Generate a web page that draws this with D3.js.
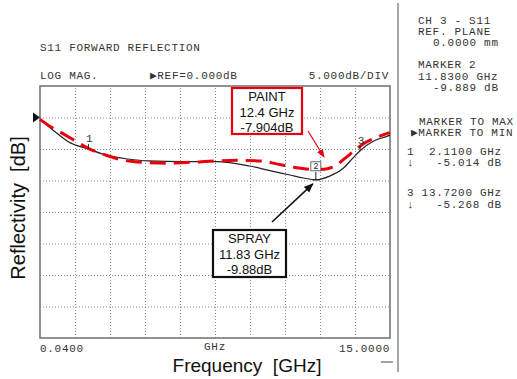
<!DOCTYPE html>
<html>
<head>
<meta charset="utf-8">
<script src="https://cdn.jsdelivr.net/npm/d3@7"></script>
<style>
  body { margin: 0; background: #fff; }
  .mono { font-family: "Liberation Mono", "DejaVu Sans Mono", monospace; font-size: 11px; fill: #333; letter-spacing: 0.7px; white-space: pre; }
  .sans { font-family: "Liberation Sans", Arial, sans-serif; white-space: pre; }
  .grid line { stroke: #888; stroke-width: 1; stroke-dasharray: 1,2; }
  .grid path { display: none; }
</style>
</head>
<body>
<div id="chart"></div>
<script>
// Paint (red dashed) and spray (black solid) reflectivity curves, [GHz, dB]
var paintData = [
  [0.04, -0.3], [0.55, -1.6], [1.04, -2.6], [1.5, -3.6], [2.1, -4.9], [2.8, -5.9],
  [3.4, -6.6], [4.0, -7.0], [4.6, -7.15], [5.5, -7.25], [6.5, -7.1], [7.5, -6.9],
  [8.5, -6.8], [9.5, -6.9], [10.2, -7.4], [10.9, -7.9], [11.6, -8.2], [12.2, -8.2],
  [12.7, -7.6], [13.1, -6.4], [13.5, -5.2], [13.9, -4.1], [14.4, -3.2], [15.0, -2.4]
];
var sprayData = [
  [0.04, -0.3], [0.68, -2.25], [1.25, -3.84], [2.11, -5.01], [2.95, -6.06], [3.8, -6.59],
  [4.66, -6.9], [6.15, -7.0], [7.59, -7.0], [9.0, -7.7], [9.87, -8.44], [10.73, -9.13],
  [11.3, -9.6], [11.83, -9.889], [12.42, -9.3], [13.0, -8.06], [13.4, -6.5], [13.72, -5.268],
  [14.3, -3.73], [14.86, -3.0], [15.0, -2.8]
];
// instrument markers on the spray trace
var markers = [
  {id: "1", f: 2.11, db: -5.014},
  {id: "2", f: 11.83, db: -9.889},
  {id: "3", f: 13.72, db: -5.268}
];
var headerLines = ["S11 FORWARD REFLECTION"];
var sideLines = [
  ["CH 3 - S11", 418, 24], ["REF. PLANE", 418, 35], ["0.0000 mm", 433, 46],
  ["MARKER 2", 418, 68], ["11.8300 GHz", 418, 80], ["-9.889 dB", 433, 91],
  ["MARKER TO MAX", 419, 125], ["\u25B6MARKER TO MIN", 411, 136],
  ["1  2.1100 GHz", 407, 155], ["\u2193   -5.014 dB", 407, 166],
  ["3 13.7200 GHz", 407, 196], ["\u2193   -5.268 dB", 407, 208]
];
var paintNote = ["PAINT", "12.4 GHz", "-7.904dB"];
var sprayNote = ["SPRAY", "11.83 GHz", "-9.88dB"];

var W = 517, H = 379;
var margin = {top: 86, right: 127, bottom: 41, left: 40};
var pw = W - margin.left - margin.right;   // 350
var ph = H - margin.top - margin.bottom;   // 252

var svg = d3.select("#chart").append("svg")
  .attr("width", W).attr("height", H);

var x = d3.scaleLinear().domain([0.04, 15]).range([0, pw]);
var y = d3.scaleLinear().domain([-35, 5]).range([ph, 0]);

var g = svg.append("g")
  .attr("transform", "translate(" + margin.left + "," + margin.top + ")");

// grid: 10 x divisions, 8 y divisions of 5 dB
var xStep = (15 - 0.04) / 10;
g.append("g").attr("class", "grid")
  .attr("transform", "translate(0," + ph + ")")
  .call(d3.axisBottom(x).tickValues(d3.range(1, 10).map(function(i){ return 0.04 + i * xStep; }))
        .tickSize(-ph).tickFormat(""));
g.append("g").attr("class", "grid")
  .call(d3.axisLeft(y).tickValues(d3.range(-30, 5, 5)).tickSize(-pw).tickFormat(""));

// frame
g.append("rect").attr("width", pw).attr("height", ph)
  .attr("fill", "none").attr("stroke", "#777").attr("stroke-width", 1.6);

var line = d3.line()
  .x(function(d){ return x(d[0]); })
  .y(function(d){ return y(d[1]); })
  .curve(d3.curveMonotoneX);

g.append("path").datum(sprayData)
  .attr("fill", "none").attr("stroke", "#222").attr("stroke-width", 1.2)
  .attr("d", line);
g.append("path").datum(paintData)
  .attr("fill", "none").attr("stroke", "#e8000b").attr("stroke-width", 3)
  .attr("stroke-dasharray", "16,8")
  .attr("d", line);

// reference marker triangle at 0 dB
g.append("path")
  .attr("d", "M-7," + (y(0) - 5) + "L0," + y(0) + "L-7," + (y(0) + 5) + "Z")
  .attr("fill", "#111");

// markers 1..3
markers.forEach(function(m){
  var mx = x(m.f), my = y(m.db);
  if (m.id === "2") {
    g.append("line").attr("x1", mx - 4).attr("x2", mx + 4)
      .attr("y1", my).attr("y2", my).attr("stroke", "#222");
    g.append("line").attr("x1", mx).attr("x2", mx)
      .attr("y1", my).attr("y2", my - 8).attr("stroke", "#222");
    g.append("rect").attr("x", mx - 5).attr("y", my - 18).attr("width", 10).attr("height", 9)
      .attr("fill", "#fff").attr("stroke", "#444").attr("stroke-width", 0.8);
    g.append("text").attr("class", "mono").attr("x", mx).attr("y", my - 10.5)
      .attr("text-anchor", "middle").style("font-size", "9px").style("letter-spacing", "0").text(m.id);
  } else {
    g.append("line").attr("x1", mx).attr("x2", mx)
      .attr("y1", my).attr("y2", my - 5).attr("stroke", "#222");
    g.append("text").attr("class", "mono").attr("x", mx + 1).attr("y", my - 7)
      .attr("text-anchor", "middle").style("letter-spacing", "0").text(m.id);
  }
});

// header text
svg.append("text").attr("class", "mono").attr("x", 40).attr("y", 51).text(headerLines[0]);
svg.append("text").attr("class", "mono").attr("x", 40).attr("y", 79).text("LOG MAG.");
svg.append("text").attr("class", "mono").attr("x", 150).attr("y", 79).text("\u25B6REF=0.000dB");
svg.append("text").attr("class", "mono").attr("x", 389).attr("y", 79)
  .attr("text-anchor", "end").text("5.000dB/DIV");

// x axis end labels
svg.append("text").attr("class", "mono").attr("x", 40).attr("y", 352).text("0.0400");
svg.append("text").attr("class", "mono").attr("x", 215).attr("y", 350)
  .attr("text-anchor", "middle").text("GHz");
svg.append("text").attr("class", "mono").attr("x", 390).attr("y", 352)
  .attr("text-anchor", "end").text("15.0000");
svg.append("line").attr("x1", 381).attr("x2", 393).attr("y1", 362).attr("y2", 362)
  .attr("stroke", "#444");

// side panel
svg.append("line").attr("x1", 398).attr("x2", 398).attr("y1", 3).attr("y2", 372)
  .attr("stroke", "#888").attr("stroke-width", 1.5);
sideLines.forEach(function(s){
  svg.append("text").attr("class", "mono").attr("x", s[1]).attr("y", s[2]).text(s[0]);
});

// axis titles
svg.append("text").attr("class", "sans")
  .attr("x", 247).attr("y", 372).attr("text-anchor", "middle")
  .style("font-size", "19px").style("fill", "#111").text("Frequency  [GHz]");
svg.append("text").attr("class", "sans")
  .attr("transform", "translate(25,208) rotate(-90)").attr("text-anchor", "middle")
  .style("font-size", "20px").style("fill", "#111").text("Reflectivity  [dB]");

// annotation boxes
function noteBox(lines, bx, by, bw, bh, color) {
  svg.append("rect").attr("x", bx).attr("y", by).attr("width", bw).attr("height", bh)
    .attr("fill", "#fff").attr("stroke", color).attr("stroke-width", 2.2);
  lines.forEach(function(t, i){
    svg.append("text").attr("class", "sans")
      .attr("x", bx + bw / 2).attr("y", by + 13 + i * 15.5)
      .attr("text-anchor", "middle").style("font-size", "13px").style("fill", "#111")
      .text(t);
  });
}
noteBox(paintNote, 232, 88, 70, 46, "#e8000b");
noteBox(sprayNote, 213, 230, 73, 47, "#111");

// arrows
var defs = svg.append("defs");
defs.append("marker").attr("id", "headRed").attr("viewBox", "0 0 10 10")
  .attr("refX", 9).attr("refY", 5).attr("markerWidth", 7).attr("markerHeight", 7)
  .attr("orient", "auto").append("path").attr("d", "M0,1L10,5L0,9Z").attr("fill", "#e8000b");
defs.append("marker").attr("id", "headBlack").attr("viewBox", "0 0 10 10")
  .attr("refX", 9).attr("refY", 5).attr("markerWidth", 6).attr("markerHeight", 6)
  .attr("orient", "auto").append("path").attr("d", "M0,1L10,5L0,9Z").attr("fill", "#111");
svg.append("line").attr("x1", 308).attr("y1", 131).attr("x2", 324).attr("y2", 157)
  .attr("stroke", "#e8000b").attr("stroke-width", 1.2).attr("marker-end", "url(#headRed)");
svg.append("line").attr("x1", 272).attr("y1", 222).attr("x2", x(11.83) + margin.left - 3).attr("y2", y(-9.889) + margin.top + 4)
  .attr("stroke", "#111").attr("stroke-width", 1.6).attr("marker-end", "url(#headBlack)");
</script>
</body>
</html>
